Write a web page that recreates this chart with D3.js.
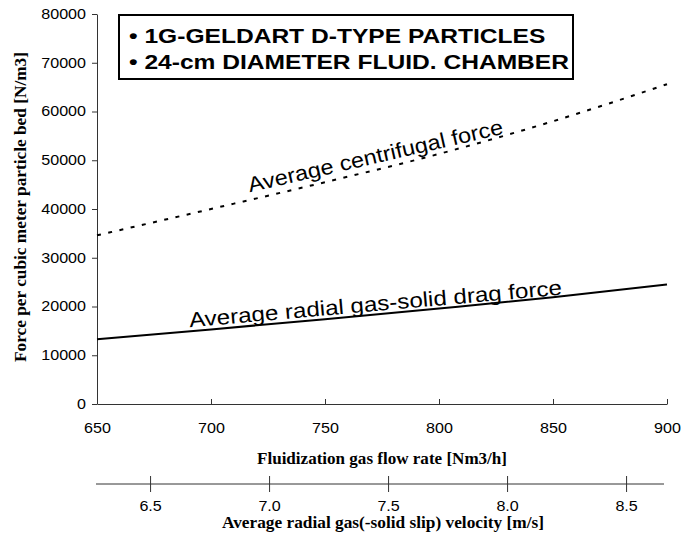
<!DOCTYPE html>
<html>
<head>
<meta charset="utf-8">
<script src="https://cdn.jsdelivr.net/npm/d3@7"></script>
<style>
  body { margin: 0; background: #fff; }
  svg { display: block; }
</style>
</head>
<body>
<svg id="chart" width="685" height="538"></svg>
<script>
// ---- data ----
const flowRates = [650, 700, 750, 800, 850, 900];
const centrifugalForce = [34600, 40000, 45500, 51300, 58000, 65600];
const dragForce = [13300, 15300, 17400, 19600, 21900, 24500];
const xTicks = [650, 700, 750, 800, 850, 900];
const yTicks = [0, 10000, 20000, 30000, 40000, 50000, 60000, 70000, 80000];
const velocityTicks = [6.5, 7.0, 7.5, 8.0, 8.5];
const velocityDomain = [6.277, 8.672];
const legendLines = ["\u2022 1G-GELDART D-TYPE PARTICLES", "\u2022 24-cm DIAMETER FLUID. CHAMBER"];

(function () {
const svg = d3.select("#chart");
const pLeft = 97, pRight = 667, pTop = 14, pBottom = 404;
const K = 1.15; // horizontal stretch of the reference's lettering

const x = d3.scaleLinear().domain([650, 900]).range([pLeft, pRight]);
const y = d3.scaleLinear().domain([0, 80000]).range([pBottom, pTop]);
const v = d3.scaleLinear().domain(velocityDomain).range([pLeft, pRight]);

const axisColor = "#333";
const sans = "Liberation Sans, Arial, sans-serif";
const serif = "Liberation Serif, Times New Roman, serif";

function stretch(sel, k) {
  sel.each(function () {
    const w = this.getComputedTextLength();
    this.setAttribute("textLength", w * k);
    this.setAttribute("lengthAdjust", "spacingAndGlyphs");
  });
}
function fitLength(sel, target) {
  sel.each(function () {
    this.setAttribute("textLength", target);
    this.setAttribute("lengthAdjust", "spacingAndGlyphs");
  });
}

// Y axis
const yAxis = svg.append("g").attr("transform", `translate(${pLeft},0)`)
  .call(d3.axisLeft(y).tickValues(yTicks).tickSize(5).tickSizeOuter(0).tickPadding(6).tickFormat(d3.format("d")));
yAxis.selectAll("text").attr("font-family", sans).attr("font-size", 14).attr("fill", "#000");

// X axis (ticks inside)
const xAxis = svg.append("g").attr("transform", `translate(0,${pBottom})`)
  .call(d3.axisBottom(x).tickValues(xTicks).tickSize(-5).tickSizeOuter(0).tickPadding(19).tickFormat(d3.format("d")));
xAxis.selectAll("text").attr("font-family", sans).attr("font-size", 14).attr("fill", "#000");

// Secondary velocity axis
const secY = 484;
const vAxis = svg.append("g").attr("transform", `translate(0,${secY})`)
  .call(d3.axisBottom(v).tickValues(velocityTicks).tickSize(8).tickSizeOuter(0).tickPadding(9).tickFormat(d3.format(".1f")));
vAxis.selectAll(".tick line").attr("y1", -8);
vAxis.select(".domain").attr("d", `M${pLeft - 1},0H${pRight - 3}`);
vAxis.selectAll("text").attr("font-family", sans).attr("font-size", 14).attr("fill", "#000");

[yAxis, xAxis, vAxis].forEach(g => {
  g.selectAll("line").attr("stroke", axisColor);
  g.select(".domain").attr("stroke", axisColor);
  stretch(g.selectAll("text"), K);
});

// Lines
const line = d3.line().x((d, i) => x(flowRates[i])).y(d => y(d)).curve(d3.curveMonotoneX);
svg.append("path").datum(centrifugalForce).attr("d", line)
  .attr("fill", "none").attr("stroke", "#000").attr("stroke-width", 2).attr("stroke-dasharray", "4,7.5");
svg.append("path").datum(dragForce).attr("d", line)
  .attr("fill", "none").attr("stroke", "#000").attr("stroke-width", 2);

// Curve labels
const lab1 = svg.append("text").attr("transform", "translate(377,163) rotate(-13)")
  .attr("text-anchor", "middle").attr("font-family", sans).attr("font-size", 21)
  .text("Average centrifugal force");
stretch(lab1, 1.12);
const lab2 = svg.append("text").attr("transform", "translate(376,311) rotate(-5)")
  .attr("text-anchor", "middle").attr("font-family", sans).attr("font-size", 21)
  .text("Average radial gas-solid drag force");
stretch(lab2, K);

// Legend box
svg.append("rect").attr("x", 119).attr("y", 15).attr("width", 454).attr("height", 64)
  .attr("fill", "#fff").attr("stroke", "#000").attr("stroke-width", 2);
const leg = svg.selectAll(".legend").data(legendLines).enter().append("text")
  .attr("x", 129).attr("y", (d, i) => 43 + i * 26)
  .attr("font-family", sans).attr("font-weight", "bold").attr("font-size", 21)
  .text(d => d);
stretch(leg, 1.17);

// Axis titles
svg.append("text").attr("transform", "translate(26,207) rotate(-90)")
  .attr("text-anchor", "middle").attr("font-family", serif)
  .attr("font-weight", "bold").attr("font-size", 16)
  .call(fitLength, 310)
  .text("Force per cubic meter particle bed [N/m3]");
svg.append("text").attr("x", 382).attr("y", 464)
  .attr("text-anchor", "middle").attr("font-family", serif)
  .attr("font-weight", "bold").attr("font-size", 16)
  .call(fitLength, 250)
  .text("Fluidization gas flow rate [Nm3/h]");
svg.append("text").attr("x", 383).attr("y", 528)
  .attr("text-anchor", "middle").attr("font-family", serif)
  .attr("font-weight", "bold").attr("font-size", 16)
  .call(fitLength, 322)
  .text("Average radial gas(-solid slip) velocity [m/s]");
})();
</script>
</body>
</html>
